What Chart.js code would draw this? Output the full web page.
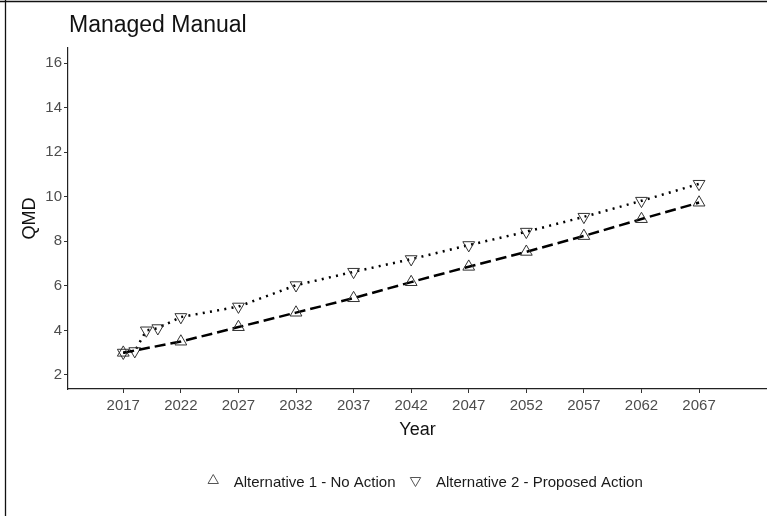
<!DOCTYPE html>
<html>
<head>
<meta charset="utf-8">
<script src="https://cdn.jsdelivr.net/npm/chart.js@4.4.1/dist/chart.umd.min.js"></script>
<style>
  html, body { margin: 0; padding: 0; background: #fff; }
  #wrap { width: 767px; height: 516px; position: relative; }
</style>
</head>
<body>
<div id="wrap"><canvas id="c" width="767" height="516"></canvas></div>
<script>
// QMD projections by year for the two alternatives
const years1 = [2017, 2022, 2027, 2032, 2037, 2042, 2047, 2052, 2057, 2062, 2067];
const alt1 = [3.0, 3.5, 4.15, 4.8, 5.45, 6.17, 6.86, 7.53, 8.24, 9.0, 9.74];
const years2 = [2017, 2018, 2019, 2020, 2022, 2027, 2032, 2037, 2042, 2047, 2052, 2057, 2062, 2067];
const alt2 = [3.0, 3.07, 4.0, 4.1, 4.6, 5.07, 6.03, 6.63, 7.2, 7.83, 8.43, 9.1, 9.82, 10.58];
const labels = ['Alternative 1 - No Action', 'Alternative 2 - Proposed Action'];
const xTicks = [2017, 2022, 2027, 2032, 2037, 2042, 2047, 2052, 2057, 2062, 2067];
const yTicks = [2, 4, 6, 8, 10, 12, 14, 16];

const FONT = "'Liberation Sans', Arial, sans-serif";

function pts(xs, ys) { return xs.map((x, i) => ({ x: x, y: ys[i] })); }

function triangle(ctx, cx, cy, r, down) {
  ctx.beginPath();
  for (let k = 0; k < 3; k++) {
    const a = (down ? Math.PI : 0) + k * 2 * Math.PI / 3;
    const px = cx + Math.sin(a) * r, py = cy - Math.cos(a) * r;
    if (k === 0) ctx.moveTo(px, py); else ctx.lineTo(px, py);
  }
  ctx.closePath();
  ctx.stroke();
}

// Page frame, heading and bottom legend
const decor = {
  id: 'decor',
  beforeDraw(chart) {
    const ctx = chart.ctx;
    ctx.save();
    ctx.fillStyle = '#fff';
    ctx.fillRect(0, 0, chart.width, chart.height);
    ctx.strokeStyle = '#111';
    ctx.lineWidth = 1.3;
    ctx.beginPath();
    ctx.moveTo(0, 1.5); ctx.lineTo(chart.width, 1.5);
    ctx.moveTo(5.5, 0); ctx.lineTo(5.5, chart.height);
    ctx.stroke();
    ctx.restore();
  },
  afterDraw(chart) {
    const ctx = chart.ctx;
    ctx.save();
    ctx.fillStyle = '#111';
    ctx.font = '23px ' + FONT;
    ctx.textBaseline = 'alphabetic';
    ctx.textAlign = 'left';
    ctx.fillText('Managed Manual', 69, 31.5);

    // legend
    ctx.font = '15px ' + FONT;
    const symGap = 20.5, itemGap = 14, half = 6;
    const widths = chart.data.datasets.map(d => ctx.measureText(d.label).width);
    let total = 0;
    widths.forEach((w, i) => { total += half + symGap + w + (i > 0 ? itemGap : 0); });
    let x = 425 - total / 2;
    const y = 481.5;
    chart.data.datasets.forEach((d, i) => {
      if (i > 0) x += itemGap;
      ctx.strokeStyle = '#555';
      ctx.lineWidth = 1;
      triangle(ctx, x + half, y - 1, 6, d.pointRotation === 180);
      ctx.fillStyle = '#1a1a1a';
      ctx.textBaseline = 'middle';
      ctx.fillText(d.label, x + half + symGap, y + 1);
      x += half + symGap + widths[i];
    });
    ctx.restore();
  }
};

new Chart(document.getElementById('c'), {
  type: 'line',
  data: {
    datasets: [
      {
        label: labels[0],
        data: pts(years1, alt1),
        borderColor: '#000',
        borderWidth: 2.5,
        borderDash: [11, 5],
        pointStyle: 'triangle',
        pointRadius: 6.8,
        pointBorderColor: '#333',
        pointBackgroundColor: 'rgba(0,0,0,0)',
        pointBorderWidth: 1,
        tension: 0,
        fill: false
      },
      {
        label: labels[1],
        data: pts(years2, alt2),
        borderColor: '#000',
        borderWidth: 2.5,
        borderDash: [2, 5.3],
        pointStyle: 'triangle',
        pointRotation: 180,
        pointRadius: 6.8,
        pointBorderColor: '#333',
        pointBackgroundColor: 'rgba(0,0,0,0)',
        pointBorderWidth: 1,
        tension: 0,
        fill: false
      }
    ]
  },
  options: {
    responsive: false,
    animation: false,
    devicePixelRatio: 1,
    layout: { autoPadding: false, padding: { top: 48, left: 0, right: 0, bottom: 0 } },
    plugins: {
      legend: { display: false },
      title: { display: false },
      tooltip: { enabled: false }
    },
    scales: {
      x: {
        type: 'linear',
        min: 2012.2,
        max: 2072.9,
        afterBuildTicks: s => { s.ticks = xTicks.map(v => ({ value: v })); },
        afterFit: s => { s.height = 127; },
        grid: { display: true, drawOnChartArea: false, drawTicks: true, tickLength: 4, color: '#333', lineWidth: 1 },
        border: { display: true, color: '#222', width: 1.2 },
        ticks: {
          color: '#4d4d4d', font: { family: FONT, size: 15 }, padding: 4,
          maxRotation: 0, autoSkip: false, callback: v => String(v)
        },
        title: {
          display: true, text: 'Year', color: '#111',
          font: { family: FONT, size: 18 }, padding: { top: 0, bottom: 75 }
        }
      },
      y: {
        type: 'linear',
        min: 1.37,
        max: 16.68,
        afterBuildTicks: s => { s.ticks = yTicks.map(v => ({ value: v })); },
        afterFit: s => { s.width = 68; },
        grid: { display: true, drawOnChartArea: false, drawTicks: true, tickLength: 4, color: '#333', lineWidth: 1 },
        border: { display: true, color: '#222', width: 1.2 },
        ticks: {
          color: '#4d4d4d', font: { family: FONT, size: 15 }, padding: 2,
          autoSkip: false, callback: v => String(v)
        },
        title: {
          display: true, text: 'QMD', color: '#111',
          font: { family: FONT, size: 18 }, padding: { top: 19, bottom: 0 }
        }
      }
    }
  },
  plugins: [decor]
});
</script>
</body>
</html>
